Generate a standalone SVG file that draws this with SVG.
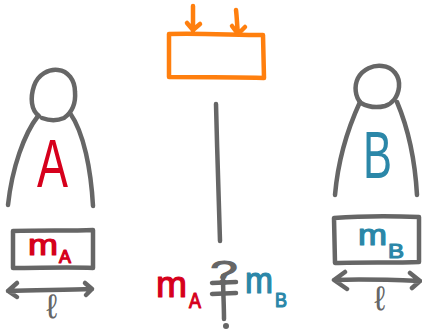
<svg xmlns="http://www.w3.org/2000/svg" width="422" height="335" viewBox="0 0 422 335">
  <style>
    .ink { fill: none; stroke: #666; stroke-width: 4.5; stroke-linecap: round; stroke-linejoin: round; }
    .warm { fill: none; stroke: #ff7f0e; stroke-width: 4.5; stroke-linecap: round; stroke-linejoin: round; }
    .lbl { font-family: "Liberation Sans", Arial, sans-serif; }
    .red { fill: #d6001c; }
    .blue { fill: #2b87a8; }
    .grey { fill: #666; }
    .thick { stroke-width: 1.2; stroke-linejoin: round; }
    .red.thick { stroke: #d6001c; }
    .blue.thick { stroke: #2b87a8; }
    .grey.thick { stroke: #666; }
  </style>

  <rect width="422" height="335" fill="#fff"/>

  <!-- person A -->
  <g id="personA">
    <path class="ink" d="M39,116 C31,110 30,98 34,86 C38,74 49,69 58,70 C68,71 75,80 75,92 C76,104 71,113 64,118 C57,121 50,121 42,118"/>
    <path class="ink" d="M38,116 C24,134 12,168 8,205"/>
    <path class="ink" d="M70,113 C84,133 91,170 93,206"/>
    <text class="lbl red" x="37" y="187" font-size="68" textLength="31" lengthAdjust="spacingAndGlyphs">A</text>
  </g>

  <!-- person B -->
  <g id="personB">
    <path class="ink" d="M361,103 C355,97 354,86 358,78 C363,69 373,65 382,66 C393,67 400,76 399,87 C398,97 392,104 385,106 C377,108 368,107 361,103"/>
    <path class="ink" d="M360,102 C348,128 338,160 335,195"/>
    <path class="ink" d="M397,102 C408,128 415,160 417,195"/>
    <text class="lbl blue" x="363" y="178" font-size="67" textLength="29" lengthAdjust="spacingAndGlyphs">B</text>
  </g>

  <!-- mass block A with its width -->
  <g id="boxA">
    <path class="ink" d="M13,231 C40,230 70,231 93,230 L93,268 C70,267 40,268 13,268 Z"/>
    <text class="lbl red thick" x="28" y="255" font-size="29" textLength="30" lengthAdjust="spacingAndGlyphs">m</text>
    <text class="lbl red thick" x="59" y="263" font-size="18" textLength="12" lengthAdjust="spacingAndGlyphs">A</text>
    <text class="lbl grey" x="52" y="318" font-size="34" text-anchor="middle">ℓ</text>
  </g>

  <!-- mass block B with its width -->
  <g id="boxB">
    <path class="ink" d="M334,218 C360,216 395,216 419,217 L419,262 C395,263 360,262 335,263 Z"/>
    <text class="lbl blue thick" x="358" y="245" font-size="29" textLength="29" lengthAdjust="spacingAndGlyphs">m</text>
    <text class="lbl blue thick" x="388" y="258" font-size="21" textLength="16" lengthAdjust="spacingAndGlyphs">B</text>
    <text class="lbl grey" x="380" y="310" font-size="34" text-anchor="middle">ℓ</text>
  </g>

  <!-- orange plank pressed from above -->
  <g id="plank">
    <path class="warm" d="M169,34 C200,33 235,35 263,35 L264,78 C235,77 200,77 169,77 Z"/>
  </g>

  <!-- comparison m_A ?= m_B : question hook, long stem through the equals bars, dot -->
  <g id="compare">
    <text class="lbl red thick" x="156" y="297" font-size="36" textLength="31" lengthAdjust="spacingAndGlyphs">m</text>
    <text class="lbl red thick" x="189" y="308" font-size="22" textLength="12" lengthAdjust="spacingAndGlyphs">A</text>
    <text class="lbl grey thick" font-size="34" text-anchor="middle" transform="translate(224,284) scale(1.45,1)">?</text>
    <path class="ink" d="M223,276 C223,290 224,305 224,319"/>
    <circle cx="226" cy="326" r="3" fill="#666"/>
    <path class="ink" d="M212,283 L236,282 M212,294 L236,293"/>
    <text class="lbl blue thick" x="245" y="293" font-size="36" textLength="28" lengthAdjust="spacingAndGlyphs">m</text>
    <text class="lbl blue thick" x="275" y="307" font-size="21" textLength="12" lengthAdjust="spacingAndGlyphs">B</text>
  </g>

  <!-- connectors -->
  <g id="connectors">
    <!-- forces on the plank -->
    <path class="warm" d="M193,6 L193,31 M187,23 L193,30 L200,24"/>
    <path class="warm" d="M236,10 C237,18 237,26 238,34 M232,26 L238,34 L245,27"/>
    <!-- drop line -->
    <path class="ink" d="M216,104 C217,150 219,200 220,241"/>
    <!-- width arrows -->
    <path class="ink" d="M8,291 C35,290 65,290 92,289 M17,283 L8,291 L17,297 M85,283 L92,289 L86,295"/>
    <path class="ink" d="M334,280 C360,279 395,280 420,281 M345,272 L334,280 L347,289 M410,273 L420,281 L412,288"/>
  </g>
</svg>
